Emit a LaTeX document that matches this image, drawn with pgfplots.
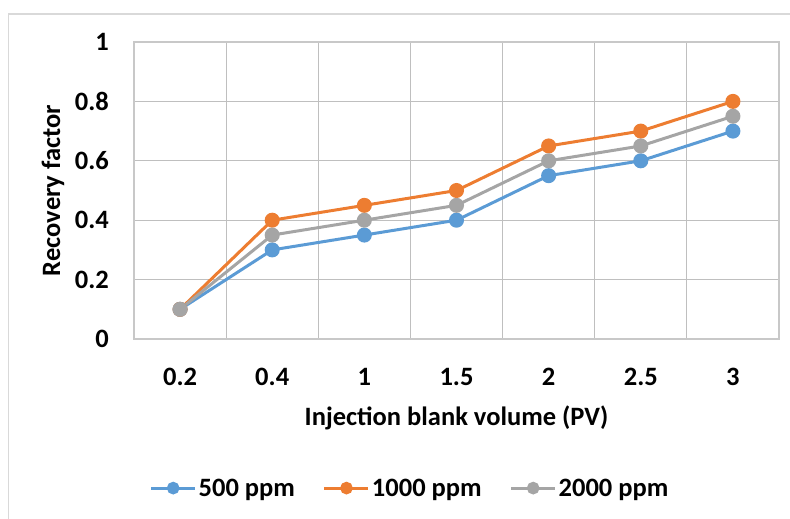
\documentclass[border=0pt]{standalone}
\usepackage{pgfplots}
\pgfplotsset{compat=1.18}
\usepackage{fontspec}
\setmainfont{Carlito}
\definecolor{cblue}{HTML}{5B9BD5}
\definecolor{corange}{HTML}{ED7D31}
\definecolor{cgray}{HTML}{A5A5A5}
\definecolor{grid}{HTML}{D9D9D9}
\definecolor{axl}{HTML}{C8C8C8}
\begin{document}
\begin{tikzpicture}
\useasboundingbox (0,0) rectangle (790pt,-519pt);
\draw[grid, line width=1.2pt] (8.5pt,-519pt) -- (8.5pt,-14pt) -- (790pt,-14pt);
\begin{axis}[
  at={(134pt,-339pt)}, anchor=south west,
  scale only axis, width=645pt, height=297pt,
  xmin=-0.5, xmax=6.5, ymin=0, ymax=1,
  xtick={0,1,2,3,4,5,6},
  xticklabels={0.2,0.4,1,1.5,2,2.5,3},
  minor xtick={-0.5,0.5,1.5,2.5,3.5,4.5,5.5,6.5},
  ytick={0,0.2,0.4,0.6,0.8,1},
  yticklabels={0,0.2,0.4,0.6,0.8,1},
  xmajorgrids=false, xminorgrids=true, ymajorgrids=true,
  grid style={grid, line width=1.2pt},
  minor grid style={grid, line width=1.2pt},
  major tick length=0pt, minor tick length=0pt,
  axis line style={axl, line width=1.2pt},
  /pgf/number format/assume math mode=true,
  tick label style={font=\fontsize{26.5}{30}\selectfont\bfseries, text=black, inner sep=0pt},
  yticklabel style={anchor=east, xshift=-25pt},
  xticklabel style={anchor=center, yshift=-38pt},
  xlabel={Injection blank volume (PV)},
  ylabel={Recovery factor},
  every axis x label/.style={at={(axis description cs:0.5,-0.266)}, anchor=center, font=\fontsize{26.5}{30}\selectfont\bfseries},
  every axis y label/.style={at={(axis description cs:-0.1256,0.5)}, anchor=center, rotate=90, font=\fontsize{26.5}{30}\selectfont\bfseries},
  legend columns=3,
  legend style={draw=none, fill=none, at={(axis description cs:0.428,-0.502)}, anchor=center,
    font=\fontsize{26.5}{30}\selectfont\bfseries, inner sep=0pt,
    nodes={inner sep=2pt},
    /tikz/every even column/.append style={column sep=26pt}},
  legend image code/.code={\draw[mark repeat=2,mark phase=2,mark size=4.8pt,#1] plot coordinates {(0pt,0pt) (22pt,0pt) (44pt,0pt)};},
  every axis plot/.append style={line width=3pt, mark=*, mark size=6pt},
]
\addplot[cblue, mark options={fill=cblue, draw=cblue}] coordinates {(0,0.1) (1,0.3) (2,0.35) (3,0.4) (4,0.55) (5,0.6) (6,0.7)};
\addlegendentry{500 ppm}
\addplot[corange, mark options={fill=corange, draw=corange}] coordinates {(0,0.1) (1,0.4) (2,0.45) (3,0.5) (4,0.65) (5,0.7) (6,0.8)};
\addlegendentry{1000 ppm}
\addplot[cgray, mark options={fill=cgray, draw=cgray}] coordinates {(0,0.1) (1,0.35) (2,0.4) (3,0.45) (4,0.6) (5,0.65) (6,0.75)};
\addlegendentry{2000 ppm}
\end{axis}
\end{tikzpicture}
\end{document}
